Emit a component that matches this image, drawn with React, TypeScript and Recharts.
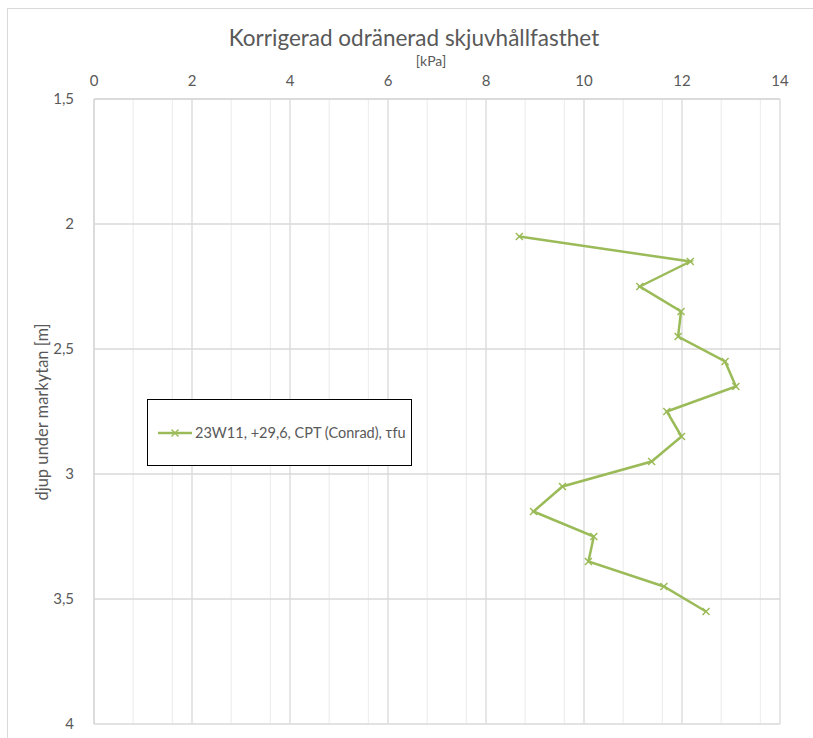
import React from 'react';
import { ScatterChart, Scatter, XAxis, YAxis, CartesianGrid } from 'recharts';

const depths = [2.05, 2.15, 2.25, 2.35, 2.45, 2.55, 2.65, 2.75, 2.85, 2.95, 3.05, 3.15, 3.25, 3.35, 3.45, 3.55];
const strengths = [8.68, 12.17, 11.14, 11.98, 11.92, 12.88, 13.1, 11.69, 11.99, 11.38, 9.56, 8.97, 10.2, 10.09, 11.63, 12.49];
const xTicks = [0, 2, 4, 6, 8, 10, 12, 14];
const xMinorTicks = [0.4, 0.8, 1.2, 1.6, 2.4, 2.8, 3.2, 3.6, 4.4, 4.8, 5.2, 5.6, 6.4, 6.8, 7.2, 7.6, 8.4, 8.8, 9.2, 9.6, 10.4, 10.8, 11.2, 11.6, 12.4, 12.8, 13.2, 13.6];
const yTicks = [1.5, 2, 2.5, 3, 3.5, 4];
const title = 'Korrigerad odränerad skjuvhållfasthet';
const xLabel = '[kPa]';
const yLabel = 'djup under markytan [m]';
const seriesName = '23W11, +29,6, CPT (Conrad),  τfu';

const data = depths.map((d, i) => ({ depth: d, tau: strengths[i] }));

const GREEN = '#9bbb59';
const TEXT = '#595959';
const FONT = 'Lato, "Open Sans", sans-serif';

const fmt = (v: number) => String(v).replace('.', ',');

const XMarker = (props: any) => {
  const { cx, cy } = props;
  if (cx == null || cy == null) return null;
  const s = 3.5;
  return (
    <g>
      <line x1={cx - s} y1={cy - s} x2={cx + s} y2={cy + s} stroke={GREEN} strokeWidth={1.5} />
      <line x1={cx - s} y1={cy + s} x2={cx + s} y2={cy - s} stroke={GREEN} strokeWidth={1.5} />
    </g>
  );
};

export default function App() {
  return (
    <div style={{ position: 'absolute', left: 0, top: 0, width: 813, height: 738, background: '#fff', overflow: 'hidden', fontFamily: FONT }}>
      <div style={{ position: 'absolute', left: 7, top: 8, width: 900, height: 900, border: '1px solid #d9d9d9', boxSizing: 'border-box' }} />
      <div style={{ position: 'absolute', left: 0, top: 0 }}>
        <ScatterChart width={813} height={738} margin={{ top: 69, right: 33, bottom: 14, left: 34 }}>
          <CartesianGrid verticalValues={xMinorTicks} horizontal={false} stroke="#eeeeee" strokeWidth={1.2} />
          <CartesianGrid verticalValues={xTicks} horizontalValues={yTicks} stroke="#d9d9d9" strokeWidth={1.3} />
          <XAxis
            type="number"
            dataKey="tau"
            orientation="top"
            domain={[0, 14]}
            ticks={xTicks}
            height={30}
            axisLine={{ stroke: '#d9d9d9', strokeWidth: 1.5 }}
            tickLine={false}
            tick={{ fill: TEXT, fontSize: 15, fontFamily: FONT }}
            tickMargin={7}
            allowDataOverflow
          />
          <YAxis
            type="number"
            dataKey="depth"
            domain={[1.5, 4]}
            reversed
            ticks={yTicks}
            width={60}
            axisLine={{ stroke: '#d9d9d9', strokeWidth: 1.5 }}
            tickLine={false}
            tick={{ fill: TEXT, fontSize: 15, fontFamily: FONT }}
            tickFormatter={fmt}
            tickMargin={14}
            allowDataOverflow
          />
          <Scatter
            data={data}
            line={{ stroke: GREEN, strokeWidth: 2.5 }}
            lineType="joint"
            shape={<XMarker />}
            isAnimationActive={false}
          />
        </ScatterChart>
      </div>
      <div style={{ position: 'absolute', left: 0, width: 813, top: 24, textAlign: 'center', fontSize: 22.5, color: TEXT, paddingLeft: 15, boxSizing: 'border-box' }}>{title}</div>
      <div style={{ position: 'absolute', left: 406, width: 50, top: 52, textAlign: 'center', fontSize: 14, color: TEXT }}>{xLabel}</div>
      <div style={{ position: 'absolute', left: 42, top: 412, transform: 'translate(-50%, -50%) rotate(-90deg)', whiteSpace: 'nowrap', fontSize: 16.5, color: TEXT }}>{yLabel}</div>
      <div style={{ position: 'absolute', left: 147, top: 399, width: 265, height: 67, border: '1.5px solid #000', boxSizing: 'border-box', background: '#fff', display: 'flex', alignItems: 'center' }}>
        <svg width={40} height={12} style={{ marginLeft: 10 }}>
          <line x1={0} y1={6} x2={34} y2={6} stroke={GREEN} strokeWidth={2.5} />
          <line x1={13.5} y1={2.5} x2={20.5} y2={9.5} stroke={GREEN} strokeWidth={1.5} />
          <line x1={13.5} y1={9.5} x2={20.5} y2={2.5} stroke={GREEN} strokeWidth={1.5} />
        </svg>
        <span style={{ fontSize: 14.5, color: TEXT, whiteSpace: 'nowrap', marginLeft: -3 }}>{seriesName}</span>
      </div>
    </div>
  );
}
